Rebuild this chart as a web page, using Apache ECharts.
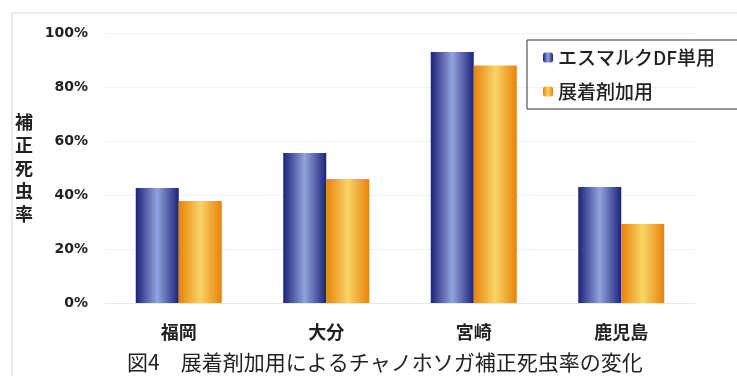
<!DOCTYPE html>
<html>
<head>
<meta charset="utf-8">
<script src="https://cdn.jsdelivr.net/npm/echarts@6/dist/echarts.min.js"></script>
<style>html,body{margin:0;padding:0;background:#fff}#c{width:737px;height:376px}</style>
</head>
<body>
<div id="c"></div>
<script>
var categories = ['福岡', '大分', '宮崎', '鹿児島'];
var seriesNames = ['エスマルクDF単用', '展着剤加用'];
var esmarkValues = [42.6, 55.6, 93.0, 43.0];
var spreaderValues = [37.8, 45.9, 88.0, 29.3];
var yTicks = [0, 20, 40, 60, 80, 100];
var titleText = '図4　展着剤加用によるチャノホソガ補正死虫率の変化';
var yName = '補正死虫率';

var jp = '"Noto Sans CJK JP", "Noto Sans", sans-serif';
function hgrad(edge, mid) {
  return new echarts.graphic.LinearGradient(0, 0, 1, 0, [
    {offset: 0, color: edge}, {offset: 0.5, color: mid}, {offset: 1, color: edge}
  ]);
}
var blueFill = hgrad('#1b2478', '#93a3de');
var orangeFill = hgrad('#e8820a', '#f9d466');

var chart = echarts.init(document.getElementById('c'));
chart.setOption({
  animation: false,
  backgroundColor: '#fff',
  grid: {left: 105, right: 42, top: 33, bottom: 73},
  legend: {
    orient: 'vertical', left: 527, top: 40,
    padding: [8, 30, 8, 16], itemGap: 15,
    itemWidth: 10, itemHeight: 10,
    borderColor: '#333', borderWidth: 1,
    textStyle: {fontFamily: jp, fontSize: 19, fontWeight: 500, color: '#222'},
    data: seriesNames
  },
  graphic: [
    {type: 'rect', shape: {x: 12, y: 13, width: 760, height: 400},
     style: {fill: 'none', stroke: '#d4d4d4', lineWidth: 1}, silent: true},
    {type: 'text', left: 127, top: 352,
     style: {text: titleText, font: '21px ' + jp, fill: '#222'}}
  ],
  xAxis: {
    type: 'category', data: categories,
    axisTick: {show: false},
    axisLine: {lineStyle: {color: '#e8e8e8'}},
    axisLabel: {margin: 20, fontFamily: jp, fontSize: 18, fontWeight: 'bold', color: '#222'}
  },
  yAxis: {
    type: 'value', min: 0, max: 100, interval: 20,
    name: yName.split('').join('\n'),
    nameLocation: 'middle', nameRotate: 0, nameGap: 72,
    nameTextStyle: {fontFamily: jp, fontSize: 18, fontWeight: 'bold', color: '#222', lineHeight: 23},
    axisLine: {show: false}, axisTick: {show: false},
    splitLine: {lineStyle: {color: '#f2f2f2'}},
    axisLabel: {margin: 17, fontFamily: '"DejaVu Sans", sans-serif', fontSize: 14, fontWeight: 'bold', color: '#222',
      formatter: function (v) { return yTicks.indexOf(v) >= 0 ? v + '%' : ''; }}
  },
  series: [
    {name: seriesNames[0], type: 'bar', data: esmarkValues, barWidth: 43, barGap: '0%',
     itemStyle: {color: blueFill}},
    {name: seriesNames[1], type: 'bar', data: spreaderValues, barWidth: 43, barGap: '0%',
     itemStyle: {color: orangeFill}}
  ]
});
</script>
</body>
</html>
